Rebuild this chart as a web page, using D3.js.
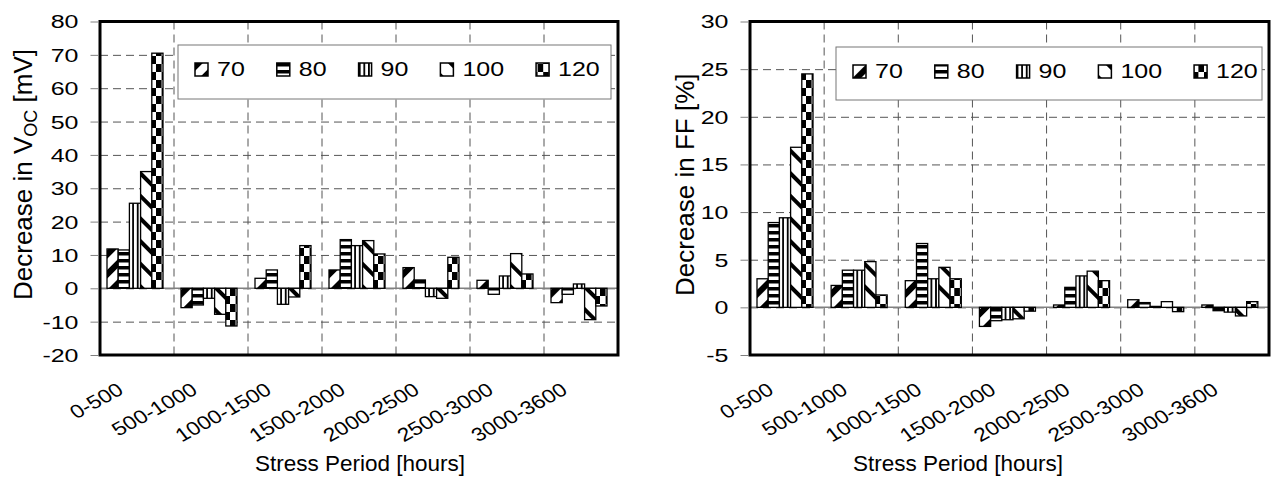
<!DOCTYPE html>
<html>
<head>
<meta charset="utf-8">
<script src="https://cdn.jsdelivr.net/npm/d3@7"></script>
<style>
body { margin: 0; background: #fff; }
svg { display: block; font-family: "Liberation Sans", Arial, sans-serif; }
</style>
</head>
<body>
<script>
// stress periods and temperatures
const periods = ["0-500", "500-1000", "1000-1500", "1500-2000", "2000-2500", "2500-3000", "3000-3600"]
const temps = ["70", "80", "90", "100", "120"]

// decrease in Voc [mV], one array per temperature
const voc70 = [11.8, -5.8, 3.0, 5.5, 6.2, 2.4, -4.3]
const voc80 = [11.5, -5.0, 5.5, 14.6, 2.5, -1.8, -1.8]
const voc90 = [25.5, -3.0, -4.8, 12.8, -2.5, 3.7, 1.3]
const voc100 = [35.0, -7.8, -2.6, 14.3, -3.0, 10.4, -9.4]
const voc120 = [70.5, -11.3, 12.8, 10.3, 9.3, 4.3, -5.3]

// decrease in FF [%]
const ff70 = [3.0, 2.3, 2.8, -2.0, 0.25, 0.8, 0.25]
const ff80 = [8.9, 3.9, 6.7, -1.4, 2.1, 0.5, -0.35]
const ff90 = [9.4, 3.9, 3.0, -1.3, 3.3, 0.1, -0.5]
const ff100 = [16.8, 4.8, 4.2, -1.2, 3.8, 0.6, -0.9]
const ff120 = [24.5, 1.3, 3.0, -0.4, 2.8, -0.45, 0.6]

const vocTicks = [-20, -10, 0, 10, 20, 30, 40, 50, 60, 70, 80]
const ffTicks = [-5, 0, 5, 10, 15, 20, 25, 30]

const width = 1272
const height = 485
const font = "Liberation Sans, Arial, sans-serif"

let svg = d3.select("body").append("svg")
    .attr("width", width)
    .attr("height", height)

addPatterns(svg.append("defs"))

drawPanel({
    left: 100, right: 618, top: 21.5, bottom: 355,
    domain: [-20, 80], ticks: vocTicks,
    series: [voc70, voc80, voc90, voc100, voc120],
    titleX: 32, titleY: 300, title: "voc", xTitleAt: 360,
    legend: { x: 178, y: 45, w: 433, h: 54, first: 195 }
})

drawPanel({
    left: 750, right: 1269, top: 21.5, bottom: 355,
    domain: [-5, 30], ticks: ffTicks,
    series: [ff70, ff80, ff90, ff100, ff120],
    titleX: 694, titleY: 296, title: "ff", xTitleAt: 958,
    legend: { x: 836, y: 47, w: 426, h: 53, first: 853 }
})

function addPatterns(defs) {
    // 70: wide "/" bands
    let p = defs.append("pattern").attr("id", "p70")
        .attr("patternUnits", "userSpaceOnUse").attr("width", 14).attr("height", 14)
        .attr("patternTransform", "rotate(45)")
    p.append("rect").attr("width", 14).attr("height", 14).attr("fill", "#fff")
    p.append("rect").attr("width", 6).attr("height", 14).attr("fill", "#000")

    // 80: horizontal stripes
    p = defs.append("pattern").attr("id", "p80")
        .attr("patternUnits", "userSpaceOnUse").attr("width", 7).attr("height", 7)
    p.append("rect").attr("width", 7).attr("height", 7).attr("fill", "#fff")
    p.append("rect").attr("width", 7).attr("height", 3.5).attr("fill", "#000")

    // 90: vertical stripes
    p = defs.append("pattern").attr("id", "p90")
        .attr("patternUnits", "userSpaceOnUse").attr("width", 4.6).attr("height", 4)
    p.append("rect").attr("width", 4.6).attr("height", 4).attr("fill", "#fff")
    p.append("rect").attr("width", 1.8).attr("height", 4).attr("fill", "#000")

    // 100: "\" bands
    p = defs.append("pattern").attr("id", "p100")
        .attr("patternUnits", "userSpaceOnUse").attr("width", 16).attr("height", 16)
        .attr("patternTransform", "rotate(-45)")
    p.append("rect").attr("width", 16).attr("height", 16).attr("fill", "#fff")
    p.append("rect").attr("width", 4).attr("height", 16).attr("fill", "#000")

    // 120: checkerboard
    p = defs.append("pattern").attr("id", "p120")
        .attr("patternUnits", "userSpaceOnUse").attr("width", 11.2).attr("height", 16)
    p.append("rect").attr("width", 11.2).attr("height", 16).attr("fill", "#fff")
    p.append("rect").attr("width", 5.6).attr("height", 8).attr("fill", "#000")
    p.append("rect").attr("x", 5.6).attr("y", 8).attr("width", 5.6).attr("height", 8).attr("fill", "#000")
}

function drawPanel(c) {
    let g = svg.append("g")
    let plotW = c.right - c.left

    let x0 = d3.scaleBand().domain(periods).range([c.left, c.right]).padding(0)
    let x1 = d3.scaleBand().domain(temps).range([7, 7 + 56]).padding(0)
    let y = d3.scaleLinear().domain(c.domain).range([c.bottom, c.top])

    // horizontal grid
    g.append("g")
        .attr("transform", `translate(${c.left},0)`)
        .call(d3.axisLeft(y).tickValues(c.ticks.slice(1, -1)).tickSize(-plotW).tickFormat(""))
        .call(a => a.select(".domain").remove())
        .selectAll("line")
            .attr("stroke", "#555")
            .attr("stroke-dasharray", "8,5")

    // vertical grid at category boundaries
    g.append("g").selectAll("line")
        .data(periods.slice(1)).enter()
        .append("line")
            .attr("x1", d => x0(d)).attr("x2", d => x0(d))
            .attr("y1", c.top).attr("y2", c.bottom)
            .attr("stroke", "#555")
            .attr("stroke-dasharray", "8,5")

    // zero line
    g.append("line")
        .attr("x1", c.left).attr("x2", c.right)
        .attr("y1", y(0)).attr("y2", y(0))
        .attr("stroke", "#808080").attr("stroke-width", 1.5)

    // bars
    let rows = periods.map((p, i) => temps.map((t, j) => ({ period: p, temp: t, value: c.series[j][i] })))
    g.append("g").selectAll("g")
        .data(rows).enter()
        .append("g")
            .attr("transform", d => `translate(${x0(d[0].period)},0)`)
        .selectAll("rect")
        .data(d => d).enter()
        .append("rect")
            .attr("x", d => x1(d.temp))
            .attr("width", x1.bandwidth())
            .attr("y", d => Math.min(y(d.value), y(0)))
            .attr("height", d => Math.abs(y(d.value) - y(0)))
            .attr("fill", d => `url(#p${d.temp})`)
            .attr("stroke", "#000")
            .attr("stroke-width", 1.3)

    // plot frame
    g.append("rect")
        .attr("x", c.left).attr("y", c.top)
        .attr("width", plotW).attr("height", c.bottom - c.top)
        .attr("fill", "none").attr("stroke", "#000").attr("stroke-width", 3)

    // y axis ticks and labels
    let tsx = 1.35
    let ya = g.append("g")
        .attr("transform", `translate(${c.left - 1.5},0)`)
        .call(d3.axisLeft(y).tickValues(c.ticks).tickSize(8).tickPadding(0).tickFormat(d => String(d)))
    ya.select(".domain").remove()
    ya.selectAll("line").attr("stroke", "#808080")
    ya.selectAll("text")
        .attr("x", -20 / tsx)
        .attr("dy", "0.35em")
        .attr("transform", `scale(${tsx},1)`)
        .attr("font-size", 18.5)
        .attr("font-family", font)
        .attr("fill", "#000")

    // category labels, rotated
    let xa = g.append("g")
        .attr("transform", `translate(0,${c.bottom})`)
        .call(d3.axisBottom(x0).tickSize(0).tickPadding(0))
    xa.select(".domain").remove()
    xa.selectAll(".tick text")
        .attr("y", 0).attr("dy", 0)
        .attr("text-anchor", "end")
        .attr("transform", "translate(-12,38) scale(1.2,1) rotate(-33)")
        .attr("font-size", 19)
        .attr("font-family", font)
        .attr("fill", "#000")

    // x title
    g.append("text")
        .attr("x", c.xTitleAt).attr("y", 471)
        .attr("text-anchor", "middle")
        .attr("font-size", 22.5)
        .text("Stress Period [hours]")

    // y title
    let yt = g.append("text")
        .attr("transform", `translate(${c.titleX},${c.titleY}) rotate(-90)`)
        .attr("text-anchor", "start")
        .attr("font-size", 26)
    if (c.title === "voc") {
        yt.append("tspan").text("Decrease in V")
        yt.append("tspan").attr("font-size", 18).attr("dy", 5).text("OC")
        yt.append("tspan").attr("dy", -5).text(" [mV]")
    } else {
        yt.text("Decrease in FF [%]")
    }

    drawLegend(g, c.legend)
}

function drawLegend(g, L) {
    let lsx = 1.25
    let lg = g.append("g")
    lg.append("rect")
        .attr("x", L.x).attr("y", L.y)
        .attr("width", L.w).attr("height", L.h)
        .attr("fill", "#fff").attr("stroke", "#777").attr("stroke-width", 1)

    let xPos = L.first
    temps.forEach(t => {
        lg.append("rect")
            .attr("x", xPos).attr("y", L.y + 18)
            .attr("width", 13).attr("height", 13)
            .attr("fill", `url(#p${t})`)
            .attr("stroke", "#000").attr("stroke-width", 1.5)
        let txt = lg.append("text")
            .attr("transform", `translate(${xPos + 22},${L.y + 31}) scale(${lsx},1)`)
            .attr("font-size", 20)
            .text(t)
        xPos += 22 + txt.node().getComputedTextLength() * lsx + 32
    })
}
</script>
</body>
</html>
